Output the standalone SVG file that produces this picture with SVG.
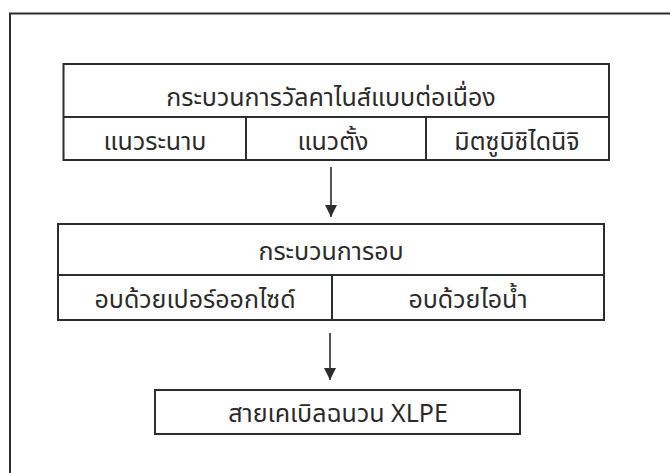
<svg xmlns="http://www.w3.org/2000/svg" width="670" height="473" viewBox="0 0 670 473">
<style>
.box{fill:#fff;stroke:#2a2e2c;stroke-width:2}
.ln{stroke:#2a2e2c;stroke-width:2;fill:none}
.ar{stroke:#2a2e2c;stroke-width:1.6;fill:none}
.t{font-family:"Noto Sans Thai","Noto Sans","DejaVu Sans",sans-serif;font-size:25px;fill:#2b2b2b;text-anchor:middle}
</style>
<defs>
<marker id="ah" viewBox="0 0 12 12" refX="12" refY="6" markerWidth="12" markerHeight="12" markerUnits="userSpaceOnUse" orient="auto"><path d="M0,0 L12,6 L0,12 z" fill="#2a2e2c"/></marker>
</defs>
<rect width="670" height="473" fill="#fff"/>
<path class="ln" d="M10,480 V13.5 H680"/>
<g id="connectors">
<line class="ar" x1="331" y1="167" x2="331" y2="217" marker-end="url(#ah)"/>
<line class="ar" x1="330" y1="333" x2="330" y2="380" marker-end="url(#ah)"/>
</g>
<g id="vulcanize">
<rect class="box" x="63.5" y="64" width="545.5" height="96"/>
<line class="ln" x1="63.5" y1="117" x2="609" y2="117"/>
<line class="ln" x1="246" y1="117" x2="246" y2="160"/>
<line class="ln" x1="426" y1="117" x2="426" y2="160"/>
<text class="t" x="331" y="105.5">กระบวนการวัลคาไนส์แบบต่อเนื่อง</text>
<text class="t" x="155" y="149.5">แนวระนาบ</text>
<text class="t" x="333" y="149.5">แนวตั้ง</text>
<text class="t" x="517" y="149.5">มิตซูบิชิไดนิจิ</text>
</g>
<g id="curing">
<rect class="box" x="58" y="224" width="546" height="96"/>
<line class="ln" x1="58" y1="275" x2="604" y2="275"/>
<line class="ln" x1="332" y1="275" x2="332" y2="320"/>
<text class="t" x="331" y="259.5">กระบวนการอบ</text>
<text class="t" x="195" y="307.5">อบด้วยเปอร์ออกไซด์</text>
<text class="t" x="468" y="307.5">อบด้วยไอน้ำ</text>
</g>
<g id="cable">
<rect class="box" x="155" y="390" width="365" height="44"/>
<text class="t" x="338" y="422">สายเคเบิลฉนวน XLPE</text>
</g>
</svg>
